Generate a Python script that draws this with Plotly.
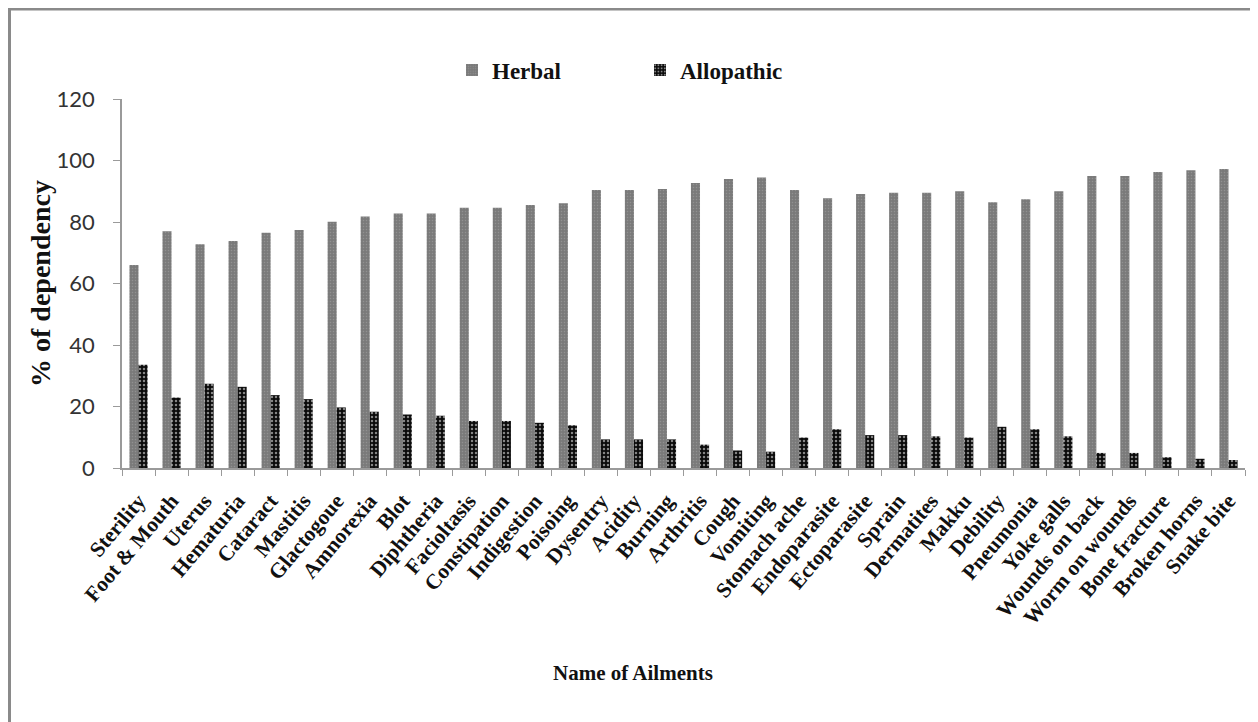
import plotly.graph_objects as go

categories = ["Sterility", "Foot & Mouth", "Uterus", "Hematuria", "Cataract", "Mastitis",
              "Glactogoue", "Amnorexia", "Blot", "Diphtheria", "Facioltasis", "Constipation",
              "Indigestion", "Poisoing", "Dysentry", "Acidity", "Burning", "Arthritis", "Cough",
              "Vomiting", "Stomach ache", "Endoparasite", "Ectoparasite", "Sprain", "Dermatites",
              "Makku", "Debility", "Pneumonia", "Yoke galls", "Wounds on back", "Worm on wounds",
              "Bone fracture", "Broken horns", "Snake bite"]

herbal = [66.0, 77.0, 72.8, 73.8, 76.5, 77.4, 80.1, 81.8, 82.8, 82.8, 84.6, 84.6,
          85.5, 86.1, 90.4, 90.4, 90.7, 92.7, 94.0, 94.5, 90.4, 87.7, 89.1, 89.5, 89.5,
          90.0, 86.4, 87.4, 90.0, 95.0, 95.0, 96.3, 96.8, 97.2]

allopathic = [33.6, 22.9, 27.4, 26.4, 23.7, 22.4, 19.7, 18.3, 17.4, 17.0, 15.3, 15.3,
              14.7, 13.9, 9.3, 9.3, 9.3, 7.6, 5.7, 5.3, 9.9, 12.6, 10.7, 10.7, 10.3,
              9.9, 13.4, 12.6, 10.3, 4.9, 4.9, 3.5, 3.0, 2.6]

y_ticks = [0, 20, 40, 60, 80, 100, 120]

serif = "Liberation Serif"

fig = go.Figure()
fig.add_trace(go.Bar(
    x=categories, y=herbal, name="Herbal",
    marker=dict(color="#7a7a7a", line=dict(width=0),
                pattern=dict(shape=".", fgcolor="#a8a8a8", size=3, solidity=0.2)),
))
fig.add_trace(go.Bar(
    x=categories, y=allopathic, name="Allopathic",
    marker=dict(color="#0a0a0a", line=dict(width=0),
                pattern=dict(shape=".", fgcolor="#ffffff", size=4, solidity=0.3)),
))

OFF = 8  # page body margin offset
W, H = 1258, 722
# target pixel positions on the page
PL, PR, PT, PB = 122, 1245, 99, 468
L = PL - OFF
T = PT - OFF
R = W - (PR - OFF)
B = H - (PB - OFF)
pw = W - L - R
ph = H - T - B

def px_x(p):
    return (p - OFF - L) / pw

def px_y(p):
    return (H - B - (p - OFF)) / ph

fig.update_layout(
    width=W, height=H,
    margin=dict(l=L, r=R, t=T, b=B),
    paper_bgcolor="white", plot_bgcolor="white",
    barmode="group", bargap=0.45, bargroupgap=0.0,
    showlegend=True,
    legend=dict(orientation="h", x=px_x(452), y=px_y(70), xanchor="left", yanchor="middle",
                font=dict(family=serif, size=23, color="#111111", weight="bold"),
                entrywidth=143, itemwidth=30, bgcolor="rgba(0,0,0,0)"),
    xaxis=dict(
        type="category", tickson="boundaries", ticks="outside", ticklen=6,
        tickcolor="#9a9a9a", showline=True, linecolor="#9a9a9a", linewidth=1.5,
        tickangle=-50, showgrid=False, automargin=False, ticklabelstandoff=10,
        tickfont=dict(family=serif, size=21.5, color="#111111", weight="bold"),
    ),
    yaxis=dict(
        range=[0, 120], tickvals=y_ticks, ticks="outside", ticklen=7,
        tickcolor="#9a9a9a", showline=True, linecolor="#9a9a9a", linewidth=1.5,
        showgrid=False, zeroline=False, automargin=False, ticklabelstandoff=14,
        tickfont=dict(family="Lato", size=22, color="#333333"),
    ),
    annotations=[
        dict(text="<b>Name of Ailments</b>", x=px_x(633), y=px_y(673),
             xref="paper", yref="paper", showarrow=False, xanchor="center", yanchor="middle",
             font=dict(family=serif, size=21, color="#111111")),
        dict(text="<b>% of dependency</b>", x=px_x(40), y=px_y(284), textangle=-90,
             xref="paper", yref="paper", showarrow=False, xanchor="center", yanchor="middle",
             font=dict(family=serif, size=28, color="#111111")),
    ],
    shapes=[dict(
        type="rect", xref="paper", yref="paper",
        x0=px_x(OFF + 1.5), x1=px_x(1264), y0=px_y(740), y1=px_y(9),
        line=dict(color="#8a8a8a", width=3), fillcolor="rgba(0,0,0,0)", layer="below",
    )],
)

fig.write_html("out.html")
